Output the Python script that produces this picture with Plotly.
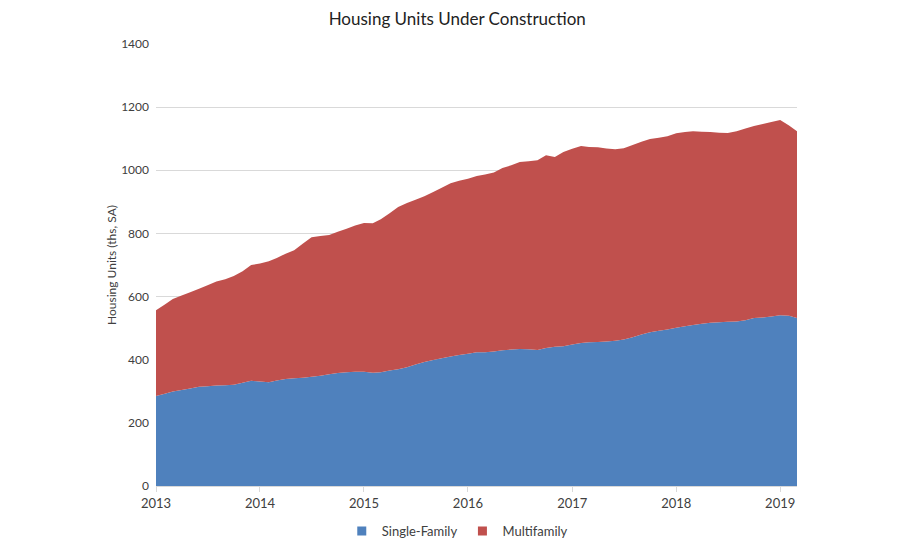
import plotly.graph_objects as go
import pandas as pd

months = pd.date_range("2013-01-01", "2019-03-01", freq="MS")

single_family = [285, 292, 299, 304, 309, 314, 316, 318, 319, 321, 327, 333,
                 331, 329, 334, 339, 341, 343, 346, 349, 354, 358, 360, 362,
                 362, 359, 360, 366, 370, 376, 385, 393, 399, 405, 410, 415,
                 419, 424, 424, 426, 430, 432, 434, 433, 431, 437, 441, 443,
                 448, 453, 455, 456, 458, 460, 464, 471, 480, 487, 492, 496,
                 501, 506, 510, 514, 517, 519, 520, 521, 525, 532, 534, 537,
                 541, 539, 532]

multifamily = [272, 283, 293, 299, 305, 311, 320, 330, 336, 344, 353, 367,
               374, 383, 388, 397, 406, 425, 442, 443, 441, 447, 455, 463,
               471, 473, 485, 498, 514, 520, 522, 525, 532, 540, 549, 552,
               554, 558, 563, 567, 577, 584, 592, 596, 601, 611, 601, 615,
               620, 624, 619, 617, 611, 607, 606, 609, 610, 612, 611, 612,
               616, 615, 614, 608, 604, 600, 598, 603, 607, 608, 613, 616,
               618, 603, 592]

series_names = ["Single-Family", "Multifamily"]
y_ticks = [0, 200, 400, 600, 800, 1000, 1200, 1400]

BLUE = "#4F81BD"
RED = "#C0504D"
FONT = "Lato, Open Sans, sans-serif"

fig = go.Figure()
for name, vals, col in zip(series_names, [single_family, multifamily], [BLUE, RED]):
    fig.add_trace(go.Scatter(x=months, y=vals, name=name, stackgroup="one",
                             mode="none", fillcolor=col, showlegend=False))
# legend entries with square swatches
for name, col in zip(series_names, [BLUE, RED]):
    fig.add_trace(go.Scatter(x=[None], y=[None], name=name, mode="markers",
                             marker=dict(symbol="square", size=9, color=col),
                             showlegend=True))

fig.update_layout(
    width=900, height=550,
    margin=dict(l=156, r=103, t=44, b=64, autoexpand=False),
    paper_bgcolor="white", plot_bgcolor="white",
    font=dict(family=FONT, size=13, color="#595959"),
    title=dict(text="Housing Units Under Construction", x=0.508, xanchor="center",
               y=0.965, yanchor="middle",
               font=dict(family=FONT, size=17, color="#222222")),
    legend=dict(orientation="h", x=0.47, xanchor="center", y=-0.102, yanchor="middle",
                font=dict(family=FONT, size=13, color="#404040"),
                traceorder="normal", itemwidth=30),
    showlegend=True,
)

fig.update_xaxes(
    type="date",
    range=[months[0], months[-1]],
    dtick="M12", tick0="2013-01-01", tickformat="%Y",
    showgrid=False, showline=True, linecolor="#D9D9D9", linewidth=1,
    ticks="outside", ticklen=5, tickcolor="#D9D9D9",
    tickfont=dict(family=FONT, size=13, color="#404040"),
)
fig.update_yaxes(
    range=[0, 1400], tickvals=y_ticks,
    showgrid=True, gridcolor="#D9D9D9", gridwidth=1,
    zeroline=False, showline=False,
    ticks="", ticklabelstandoff=6,
    tickfont=dict(family=FONT, size=12, color="#404040"),
    title=dict(text="Housing Units (ths, SA)", standoff=1,
               font=dict(family=FONT, size=12, color="#404040")),
)

fig.write_html("out.html")
